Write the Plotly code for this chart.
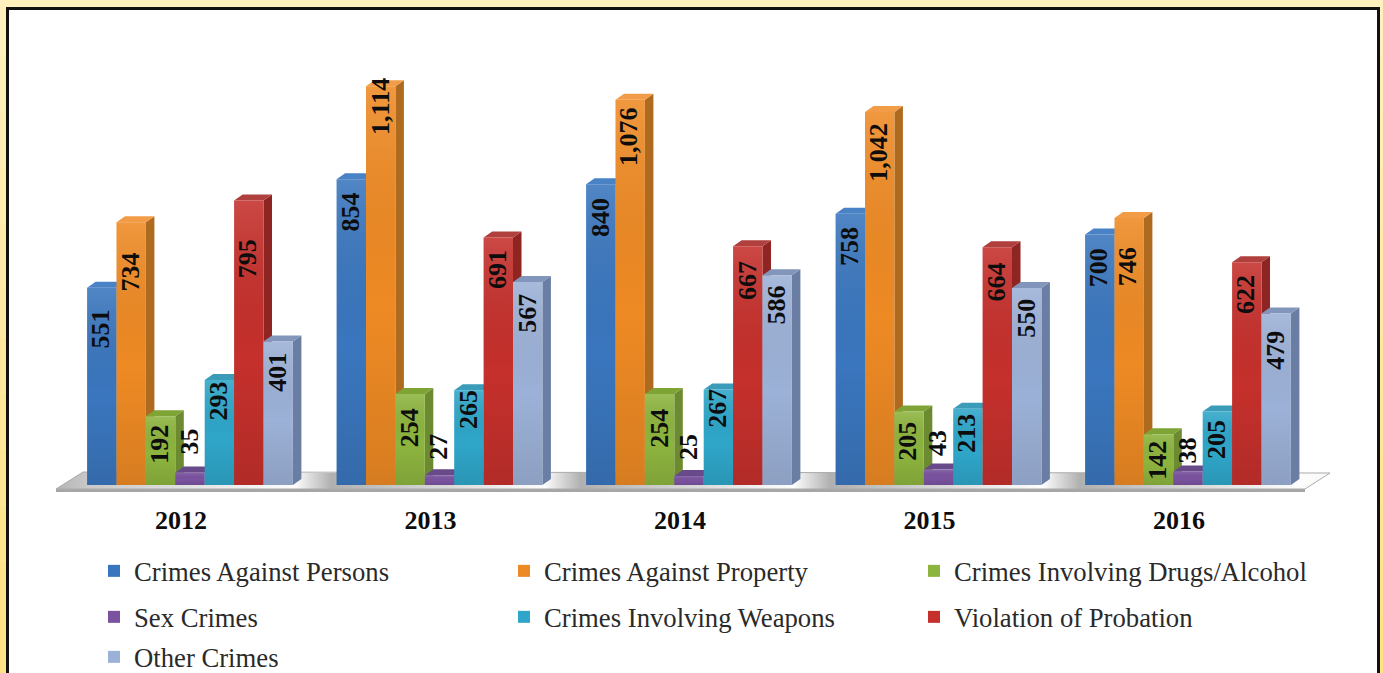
import plotly.graph_objects as go

YEARS = ["2012", "2013", "2014", "2015", "2016"]
PERSONS = [551, 854, 840, 758, 700]
PROPERTY = [734, 1114, 1076, 1042, 746]
DRUGS = [192, 254, 254, 205, 142]
SEX = [35, 27, 25, 43, 38]
WEAPONS = [293, 265, 267, 213, 205]
PROBATION = [795, 691, 667, 664, 622]
OTHER = [401, 567, 586, 550, 479]

W, H = 1383, 673
BASE_PX = 485
FLOOR_BOTTOM_PX = 490
PX_PER_UNIT = 0.358
PITCH_PX = 249.5
FIRST_CENTER_PX = 190
BAR_PX = 29.4
DEPTH_X_PX, DEPTH_Y_PX = 8.5, 6
FONT = "Liberation Serif"

SERIES = [
    ("Crimes Against Persons", PERSONS, "#3A76BE", "#2C5A93", "#4A82C6", "legend"),
    ("Crimes Against Property", PROPERTY, "#EE8A24", "#AE6A1E", "#F39C48", "legend"),
    ("Crimes Involving Drugs/Alcohol", DRUGS, "#8DB43E", "#6C8A30", "#7FA436", "legend"),
    ("Sex Crimes", SEX, "#7A529F", "#5C3D7A", "#684A8A", "legend2"),
    ("Crimes Involving Weapons", WEAPONS, "#2FA6C9", "#1F7F9B", "#3A9CB8", "legend2"),
    ("Violation of Probation", PROBATION, "#C5302C", "#8F2523", "#B0403E", "legend2"),
    ("Other Crimes", OTHER, "#9CB1D7", "#6A7EA3", "#8295BA", "legend3"),
]
# vertical distance in px from each bar's top to the centre of its label
LABEL_DROP = [
    [41, 33, 33, 33, 33],
    [50, 20, 37, 40, 49],
    [28, 34, 34, 30, 26],
    [-31, -28, -29, -26, -21],
    [21, 19, 19, 24, 28],
    [58, 32, 34, 35, 32],
    [31, 31, 30, 30, 37],
]

bar_w = BAR_PX / PITCH_PX
dx = DEPTH_X_PX / PITCH_PX
dy = DEPTH_Y_PX / PX_PER_UNIT
x_range = [-FIRST_CENTER_PX / PITCH_PX, (W - FIRST_CENTER_PX) / PITCH_PX]
y_range = [-(FLOOR_BOTTOM_PX - BASE_PX) / PX_PER_UNIT, BASE_PX / PX_PER_UNIT]
domain_y = [1 - FLOOR_BOTTOM_PX / H, 1]


def data_x(p):
    return (p - FIRST_CENTER_PX) / PITCH_PX


def data_y(p):
    return (BASE_PX - p) / PX_PER_UNIT


fig = go.Figure()

# floor plate: white just right of each cluster, fading to grey before the next
floor_px = [(83, 472), (1330, 473), (1305, 489), (56, 489), (83, 472)]
span = 1330 - 56
stops = [[0, "#B4B4B4"], [(87 - 56) / span, "#C8C8C8"]]
for i in range(1, 5):
    left = 87 + i * PITCH_PX
    stops.append([(left - 42 - 56) / span, "#FDFDFD"])
    stops.append([(left - 5 - 56) / span, "#B0B0B0"])
stops.append([(87 + 4 * PITCH_PX + 212 - 56) / span, "#FDFDFD"])
stops.append([1, "#F8F8F8"])
fig.add_trace(go.Scatter(
    x=[data_x(a) for a, _ in floor_px], y=[data_y(b) for _, b in floor_px],
    mode="lines", fill="toself", line=dict(color="#ABABAB", width=1),
    fillgradient=dict(type="horizontal", colorscale=stops),
    showlegend=False, hoverinfo="skip", xaxis="x", yaxis="y"))

# depth faces on the base subplot, fronts on the overlay subplot
for j, (name, vals, front, side, top, leg) in enumerate(SERIES):
    sx, sy, tx, ty = [], [], [], []
    for i, v in enumerate(vals):
        x0 = i + (j - 3.5) * bar_w
        x1 = x0 + bar_w
        sx += [x1, x1 + dx, x1 + dx, x1, x1, None]
        sy += [0, dy, v + dy, v, 0, None]
        tx += [x0, x0 + dx, x1 + dx, x1, x0, None]
        ty += [v, v + dy, v + dy, v, v, None]
    for xs, ys, col in ((sx, sy, side), (tx, ty, top)):
        fig.add_trace(go.Scatter(x=xs, y=ys, mode="lines", fill="toself", fillcolor=col,
                                 line=dict(width=0, color=col), showlegend=False,
                                 hoverinfo="skip", xaxis="x", yaxis="y"))

for name, vals, front, side, top, leg in SERIES:
    fig.add_trace(go.Bar(x=list(range(len(YEARS))), y=vals, name=name,
                         marker=dict(color=front, line=dict(width=0)),
                         xaxis="x2", yaxis="y2", legend=leg))

# soft top-to-bottom sheen on each front face
sheen = [[0, "rgba(0,0,0,0.10)"], [0.45, "rgba(0,0,0,0)"], [1, "rgba(255,255,255,0.12)"]]
for j, (name, vals, *_rest) in enumerate(SERIES):
    for i, v in enumerate(vals):
        x0 = i + (j - 3.5) * bar_w
        x1 = x0 + bar_w
        fig.add_trace(go.Scatter(x=[x0, x1, x1, x0, x0], y=[0, 0, v, v, 0], mode="lines",
                                 fill="toself", line=dict(width=0),
                                 fillgradient=dict(type="vertical", colorscale=sheen),
                                 showlegend=False, hoverinfo="skip", xaxis="x2", yaxis="y2"))

annotations = []
for j, (name, vals, *_rest) in enumerate(SERIES):
    for i, v in enumerate(vals):
        annotations.append(dict(
            x=i + (j - 3) * bar_w, y=v, xref="x2", yref="y2", text=f"{v:,}",
            showarrow=False, textangle=-90, yshift=-LABEL_DROP[j][i], xshift=-1, xanchor="center",
            yanchor="middle", font=dict(family=FONT, size=26, color="#0d0d0d", weight="bold"),
        ))


def px(x):
    return x / W


def py(y):
    return 1 - y / H


def poly(points):
    return "M" + " L".join(f"{px(a):.5f},{py(b):.5f}" for a, b in points) + " Z"


# the mat deepens from cream to yellow down the page
BAND_STEPS = 12
side_bands = []
for k in range(BAND_STEPS):
    t = k / (BAND_STEPS - 1)
    colour = f"rgb(255,{int(240 - t * 14)},{int(190 - t * 57)})"
    for a, b in ((0, 7), (1378, W)):
        side_bands.append(dict(type="rect", xref="paper", yref="paper", x0=px(a), x1=px(b),
                               y0=py((k + 1) * H / BAND_STEPS), y1=py(k * H / BAND_STEPS),
                               fillcolor=colour, line=dict(width=0), layer="below"))

shapes = side_bands + [
    dict(type="rect", xref="paper", yref="paper", x0=px(7.5), x1=px(1378.5), y0=-0.02, y1=py(8.5),
         fillcolor="white", line=dict(color="#111111", width=3), layer="below"),
    dict(type="path", xref="paper", yref="paper",
         path=poly([(56, 489), (1305, 489), (1305, 492), (56, 492)]),
         fillcolor="#A6A6A6", line=dict(width=0), layer="below"),
]

axis_common = dict(range=x_range, domain=[0, 1], showgrid=False, zeroline=False, showline=False)
legend_common = dict(orientation="h", xanchor="left", yanchor="middle", x=94 / W,
                     bgcolor="rgba(0,0,0,0)", borderwidth=0, itemwidth=30,
                     entrywidth=365, entrywidthmode="pixels", itemclick=False, itemdoubleclick=False,
                     font=dict(family=FONT, size=26.7, color="#2a2a2a"))

fig.update_layout(
    width=W, height=H, autosize=False,
    margin=dict(l=0, r=0, t=0, b=0, pad=0, autoexpand=False),
    paper_bgcolor="#FFF0BE", plot_bgcolor="rgba(0,0,0,0)",
    barmode="group", bargap=1 - 7 * bar_w, bargroupgap=0,
    xaxis=dict(**axis_common, type="linear",
               tickmode="array", tickvals=[i - 9 / PITCH_PX for i in range(len(YEARS))], ticktext=YEARS,
               ticks="outside", ticklen=7, tickcolor="rgba(0,0,0,0)",
               tickfont=dict(family=FONT, size=26, color="#0d0d0d", weight="bold")),
    yaxis=dict(range=y_range, domain=domain_y, showgrid=False, zeroline=False, showline=False,
               showticklabels=False, ticks=""),
    xaxis2=dict(**axis_common, type="linear", overlaying="x", showticklabels=False, ticks=""),
    yaxis2=dict(range=y_range, domain=domain_y, overlaying="y", showgrid=False, zeroline=False,
                showline=False, showticklabels=False, ticks=""),
    legend=dict(**legend_common, y=py(571)),
    legend2=dict(**legend_common, y=py(617)),
    legend3=dict(**legend_common, y=py(657)),
    shapes=shapes, annotations=annotations,
)

fig.write_html("out.html", config=dict(displayModeBar=False),
               post_script="document.body.style.margin='0';document.body.style.overflow='hidden';")
